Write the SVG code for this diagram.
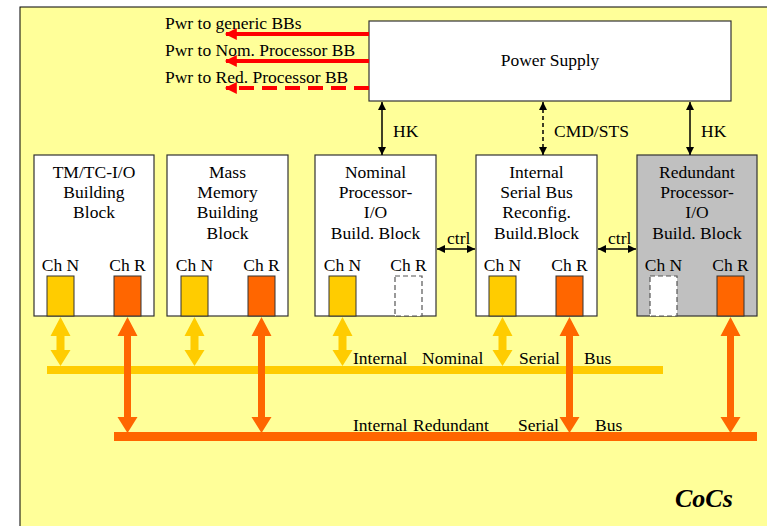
<svg xmlns="http://www.w3.org/2000/svg" width="767" height="526" viewBox="0 0 767 526">
<style>
text{font-family:"Liberation Serif","Times New Roman",serif;font-size:17.5px;fill:#000}
.c{text-anchor:middle}
.cocs{font-size:26px;font-weight:bold;font-style:italic}
.blk{fill:#fff;stroke:#333;stroke-width:1.2}
.gray{fill:#c0c0c0;stroke:#333;stroke-width:1.2}
.chn{fill:#ffcc00;stroke:#333;stroke-width:1}
.chr{fill:#ff6600;stroke:#333;stroke-width:1}
.dsh{fill:#fff;stroke:#555;stroke-width:1.2;stroke-dasharray:5,3}
.blkline{stroke:#000;stroke-width:1.5;fill:none}
.red{stroke:#ff0000;stroke-width:4;fill:none}
.yarr{fill:#ffcc00}
.oarr{fill:#ff6600}
</style>
<defs>
<marker id="ah" viewBox="0 0 10 10" refX="10" refY="5" markerWidth="8" markerHeight="8" markerUnits="userSpaceOnUse" orient="auto-start-reverse">
<path d="M0,0 L10,5 L0,10 z" fill="#000"/>
</marker>
<marker id="rh" viewBox="0 0 10 10" refX="9" refY="5" markerWidth="13" markerHeight="12" markerUnits="userSpaceOnUse" orient="auto">
<path d="M0,0 L10,5 L0,10 z" fill="#ff0000"/>
</marker>
<path id="ya" d="M0,317 L10,336 L4,336 L4,350 L10,350 L0,366 L-10,350 L-4,350 L-4,336 L-10,336 Z"/>
<path id="oa" d="M0,317 L10,336 L3.5,336 L3.5,417 L10,417 L0,433 L-10,417 L-3.5,417 L-3.5,336 L-10,336 Z"/>
</defs>
<rect x="0" y="0" width="767" height="526" fill="#fff"/>
<rect x="20" y="7" width="780" height="540" fill="#ffff99" stroke="#000" stroke-width="1"/>

<g id="power-supply">
<rect x="369" y="21" width="362" height="80" class="blk"/>
<text x="550" y="66" class="c">Power Supply</text>
</g>

<g id="tmtc">
<rect x="34" y="155" width="120" height="161" class="blk"/>
<text x="94" y="178" class="c">TM/TC-I/O</text>
<text x="94" y="198" class="c">Building</text>
<text x="94" y="218" class="c">Block</text>
<text x="60.5" y="271" class="c">Ch N</text>
<text x="127.5" y="271" class="c">Ch R</text>
<rect x="47" y="276" width="27" height="40" class="chn"/>
<rect x="114" y="276" width="27" height="40" class="chr"/>
</g>

<g id="mass-memory">
<rect x="167" y="155" width="121" height="161" class="blk"/>
<text x="227.5" y="178" class="c">Mass</text>
<text x="227.5" y="198" class="c">Memory</text>
<text x="227.5" y="218" class="c">Building</text>
<text x="227.5" y="239" class="c">Block</text>
<text x="194.5" y="271" class="c">Ch N</text>
<text x="261.5" y="271" class="c">Ch R</text>
<rect x="181" y="276" width="27" height="40" class="chn"/>
<rect x="248" y="276" width="27" height="40" class="chr"/>
</g>

<g id="nominal-processor">
<rect x="315" y="155" width="121" height="161" class="blk"/>
<text x="375.5" y="178" class="c">Nominal</text>
<text x="375.5" y="198" class="c">Processor-</text>
<text x="375.5" y="218" class="c">I/O</text>
<text x="375.5" y="239" class="c">Build. Block</text>
<text x="342.5" y="271" class="c">Ch N</text>
<text x="408.5" y="271" class="c">Ch R</text>
<rect x="329" y="276" width="27" height="40" class="chn"/>
<rect x="395" y="276" width="27" height="40" class="dsh"/>
</g>

<g id="serial-bus-reconfig">
<rect x="476" y="155" width="121" height="161" class="blk"/>
<text x="536.5" y="178" class="c">Internal</text>
<text x="536.5" y="198" class="c">Serial Bus</text>
<text x="536.5" y="218" class="c">Reconfig.</text>
<text x="536.5" y="239" class="c">Build.Block</text>
<text x="502.5" y="271" class="c">Ch N</text>
<text x="569.5" y="271" class="c">Ch R</text>
<rect x="489" y="276" width="27" height="40" class="chn"/>
<rect x="556" y="276" width="27" height="40" class="chr"/>
</g>

<g id="redundant-processor">
<rect x="637" y="155" width="120" height="161" class="gray"/>
<text x="697" y="178" class="c">Redundant</text>
<text x="697" y="198" class="c">Processor-</text>
<text x="697" y="218" class="c">I/O</text>
<text x="697" y="239" class="c">Build. Block</text>
<text x="663.5" y="271" class="c">Ch N</text>
<text x="730.5" y="271" class="c">Ch R</text>
<rect x="650" y="276" width="27" height="40" class="dsh"/>
<rect x="717" y="276" width="27" height="40" class="chr"/>
</g>

<g id="nominal-bus">
<rect x="47" y="366" width="616" height="8" fill="#ffcc00"/>
</g>
<g id="redundant-bus">
<rect x="114" y="432" width="643" height="9" fill="#ff6600"/>
</g>

<g id="connectors">
<line x1="369" y1="34" x2="226" y2="34" class="red" marker-end="url(#rh)"/>
<line x1="369" y1="61" x2="226" y2="61" class="red" marker-end="url(#rh)"/>
<line x1="369" y1="88" x2="226" y2="88" class="red" stroke-dasharray="15,8" marker-end="url(#rh)"/>
<line x1="382" y1="102" x2="382" y2="155" class="blkline" marker-start="url(#ah)" marker-end="url(#ah)"/>
<line x1="543" y1="102" x2="543" y2="155" class="blkline" stroke-dasharray="4,3" marker-start="url(#ah)" marker-end="url(#ah)"/>
<line x1="690" y1="102" x2="690" y2="155" class="blkline" marker-start="url(#ah)" marker-end="url(#ah)"/>
<line x1="437" y1="249" x2="475" y2="249" class="blkline" marker-start="url(#ah)" marker-end="url(#ah)"/>
<line x1="598" y1="249" x2="636" y2="249" class="blkline" marker-start="url(#ah)" marker-end="url(#ah)"/>
<use href="#ya" x="60.5" class="yarr"/>
<use href="#ya" x="194.5" class="yarr"/>
<use href="#ya" x="342.5" class="yarr"/>
<use href="#ya" x="502.5" class="yarr"/>
<use href="#oa" x="127.5" class="oarr"/>
<use href="#oa" x="261.5" class="oarr"/>
<use href="#oa" x="569.5" class="oarr"/>
<use href="#oa" x="730.5" class="oarr"/>
</g>

<g id="labels">
<text x="165" y="29">Pwr to generic BBs</text>
<text x="165" y="56">Pwr to Nom. Processor BB</text>
<text x="165" y="83">Pwr to Red. Processor BB</text>
<text x="393" y="137">HK</text>
<text x="554" y="137">CMD/STS</text>
<text x="701" y="137">HK</text>
<text x="447" y="244">ctrl</text>
<text x="608" y="244">ctrl</text>
<text x="353" y="364">Internal</text>
<text x="422" y="364">Nominal</text>
<text x="519" y="364">Serial</text>
<text x="584" y="364">Bus</text>
<text x="353" y="431">Internal</text>
<text x="413" y="431">Redundant</text>
<text x="518" y="431">Serial</text>
<text x="595" y="431">Bus</text>
<text x="675" y="507" class="cocs">CoCs</text>
</g>
</svg>
